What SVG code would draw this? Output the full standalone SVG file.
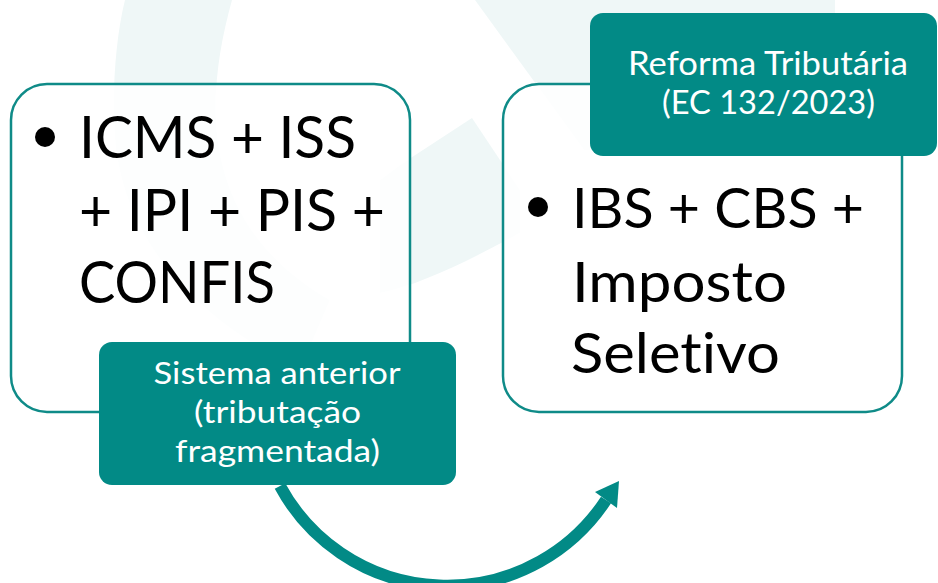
<svg xmlns="http://www.w3.org/2000/svg" width="938" height="583" viewBox="0 0 938 583">
  <defs>
    <style>
      .wm { fill: #eff7f7; }
      .box { fill: #ffffff; fill-opacity: 0.88; stroke: #0f8b88; stroke-width: 2.5; }
      .lbl { fill: #028a86; }
      .big { font-family: Lato, "Liberation Sans", sans-serif; fill: #000000; font-variant-ligatures: none; }
      .lt { font-family: Lato, "Liberation Sans", sans-serif; fill: #ffffff; text-anchor: middle; font-variant-ligatures: none; }
      .conn { fill: none; stroke: #028a86; stroke-width: 12; }
    </style>
  </defs>
  <rect width="938" height="583" fill="#ffffff"/>
  <g id="watermark">
    <path class="wm" d="M125,0 L232,0 C221,40 214,80 216,120 C220,200 260,260 330,300 L300,370 C200,320 130,250 116,150 C111,100 115,40 125,0 Z"/>
    <path class="wm" d="M475,0 L835,0 L835,150 L584,150 Z"/>
    <path class="wm" d="M472,118 L520,190 L520,233 C470,260 420,285 380,293 L380,180 L400,165 Z"/>
  </g>
  <g id="connectors">
    <path class="conn" d="M280,486 A190,190 0 0 0 606,500"/>
    <polygon fill="#028a86" points="619,481 617,508 595,492"/>
  </g>
  <g id="node-anterior">
    <rect class="box" x="11" y="84" width="399" height="328" rx="36"/>
    <circle cx="45" cy="137" r="10" fill="#000000"/>
    <text class="big" font-size="59" x="79" y="158" textLength="277" lengthAdjust="spacingAndGlyphs">ICMS + ISS</text>
    <text class="big" font-size="59" x="79" y="231" textLength="306" lengthAdjust="spacingAndGlyphs">+ IPI + PIS +</text>
    <text class="big" font-size="59" x="79" y="303" textLength="196" lengthAdjust="spacingAndGlyphs">CONFIS</text>
  </g>
  <g id="label-anterior">
    <rect class="lbl" x="99" y="342" width="357" height="143" rx="13"/>
    <text class="lt" font-size="31" x="277" y="384" textLength="247" lengthAdjust="spacingAndGlyphs">Sistema anterior</text>
    <text class="lt" font-size="31" x="277.5" y="423" textLength="167" lengthAdjust="spacingAndGlyphs">(tributação</text>
    <text class="lt" font-size="31" x="277.5" y="462" textLength="205" lengthAdjust="spacingAndGlyphs">fragmentada)</text>
  </g>
  <g id="node-reforma">
    <rect class="box" x="503" y="84" width="399" height="328" rx="36"/>
    <circle cx="538" cy="207" r="10" fill="#000000"/>
    <text class="big" font-size="57" x="572" y="228" textLength="292" lengthAdjust="spacingAndGlyphs">IBS + CBS +</text>
    <text class="big" font-size="57" x="572" y="302" textLength="215" lengthAdjust="spacingAndGlyphs">Imposto</text>
    <text class="big" font-size="57" x="571" y="373" textLength="209" lengthAdjust="spacingAndGlyphs">Seletivo</text>
  </g>
  <g id="label-reforma">
    <rect class="lbl" x="590" y="13" width="347" height="143" rx="13"/>
    <text class="lt" font-size="32" x="768" y="75" textLength="280" lengthAdjust="spacingAndGlyphs">Reforma Tributária</text>
    <text class="lt" font-size="32" x="768.5" y="114" textLength="213" lengthAdjust="spacingAndGlyphs">(EC 132/2023)</text>
  </g>
</svg>
